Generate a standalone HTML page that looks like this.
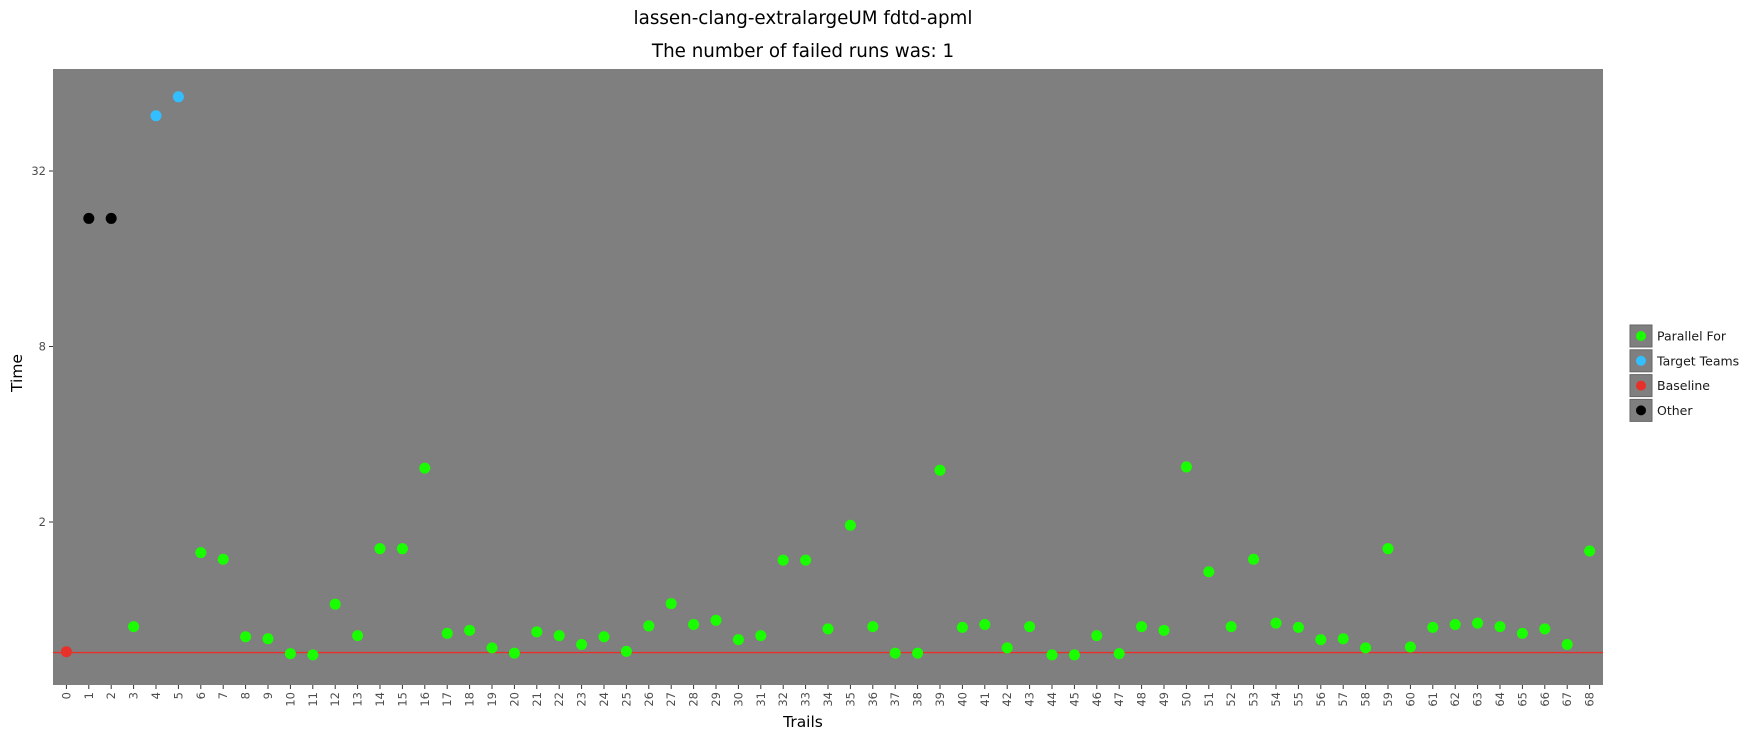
<!DOCTYPE html>
<html><head><meta charset="utf-8"><style>
body{margin:0;background:#fff;}
svg text{font-family:"DejaVu Sans","Liberation Sans",sans-serif;}
</style></head><body>
<svg id="chart" width="1764" height="739" xmlns="http://www.w3.org/2000/svg">
<text x="803" y="24" text-anchor="middle" font-size="18.3">lassen-clang-extralargeUM fdtd-apml</text>
<text x="803" y="57" text-anchor="middle" font-size="18.3">The number of failed runs was: 1</text>
<rect x="53" y="69" width="1550" height="616" fill="#7f7f7f"/>
<g id="marks"></g>
<text x="803" y="727" text-anchor="middle" font-size="15.5">Trails</text>
<text transform="translate(22,373) rotate(-90)" text-anchor="middle" font-size="15.5">Time</text>
<g id="legend"></g>
</svg>
<script>
const trials = Array.from({length:69},(_,i)=>i);
const times = [0.718,22.0,22.0,0.875,49.5,57.5,1.57,1.49,0.808,0.795,0.707,0.70,1.045,0.815,1.62,1.62,3.06,0.83,0.85,0.74,0.71,0.84,0.815,0.76,0.808,0.72,0.88,1.05,0.89,0.92,0.79,0.815,1.48,1.48,0.86,1.95,0.875,0.71,0.71,3.01,0.87,0.89,0.74,0.875,0.70,0.70,0.815,0.707,0.875,0.85,3.09,1.35,0.875,1.49,0.9,0.87,0.79,0.795,0.74,1.62,0.745,0.87,0.89,0.9,0.875,0.83,0.86,0.76,1.59];
const groups = ["Baseline","Other","Other","Parallel For","Target Teams","Target Teams"].concat(Array(63).fill("Parallel For"));
const baselineValue = 0.713;
const yTicks = [2,8,32];
const legendLabels = ["Parallel For","Target Teams","Baseline","Other"];
const colors = {"Parallel For":"#1aff00","Target Teams":"#33bfff","Baseline":"#e8302a","Other":"#000000"};

const NS="http://www.w3.org/2000/svg";
const svg=document.getElementById('chart');
const marks=document.getElementById('marks');
const X=i=>66.4+(1589.6-66.4)*i/68;
const Y=v=>522-(Math.log2(v)-1)*87.75;
function mk(tag,attrs,parent){const e=document.createElementNS(NS,tag);for(const k in attrs)e.setAttribute(k,attrs[k]);parent.appendChild(e);return e;}
yTicks.forEach(t=>{
  const l=mk('line',{x1:49,x2:53,y1:Y(t),y2:Y(t),stroke:'#333'},svg);
  
  
  const tx=mk('text',{x:46,y:Y(t)+4,'text-anchor':'end','font-size':'11.5',fill:'#4d4d4d'},svg);
  
  
  tx.textContent=t;
});
trials.forEach(i=>{
  const l=mk('line',{x1:X(i),x2:X(i),y1:685,y2:689,stroke:'#333'},svg);
  
  
  const tx=mk('text',{transform:`translate(${X(i)+4},692) rotate(-90)`,'text-anchor':'end','font-size':'11.5',fill:'#4d4d4d'},svg);
  
  
  tx.textContent=i;
});
const bl=mk('line',{x1:53,x2:1603,y1:Y(baselineValue),y2:Y(baselineValue),stroke:'#e8302a','stroke-width':1.3},marks);


trials.forEach((i,k)=>{
  const c=mk('circle',{cx:X(i),cy:Y(times[k]),r:5.5,fill:colors[groups[k]]},marks);
  
  
});
const lg=document.getElementById('legend');
legendLabels.forEach((lab,k)=>{
  const y=325+k*24.8;
  const r=mk('rect',{x:1630,y:y,width:22,height:22,fill:'#7f7f7f',stroke:'#666'},lg);
  
  
  const c=mk('circle',{cx:1641,cy:y+11,r:5,fill:colors[lab]},lg);
  
  
  const t=mk('text',{x:1657,y:y+15.5,'font-size':'12.5',fill:'#1a1a1a'},lg);
  
  
  t.textContent=lab;
});
</script>
</body></html>
